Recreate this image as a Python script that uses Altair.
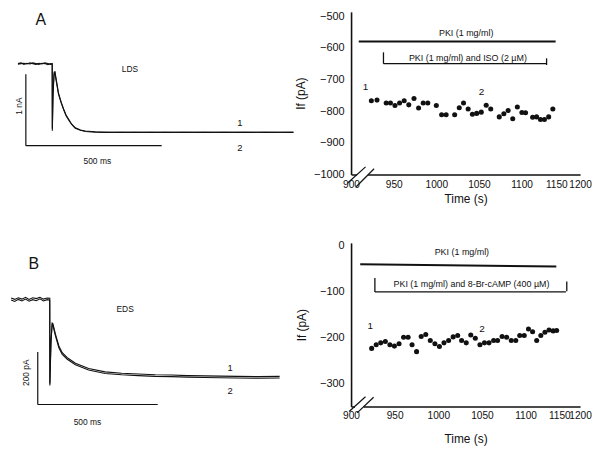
import altair as alt
import pandas as pd

FONT = "Liberation Sans"
INK = "#111111"

# ---------------- Panel A: current traces (time in ms, current in nA) ----------------
trA_time = [-29, -18, -7, 4, 15, 26, 37, 48, 59, 70, 81, 92, 97, 97.5, 100, 104, 107, 113, 120,
            130, 139, 148, 157, 168, 182, 201, 219, 255, 292, 350, 401, 460, 511, 580, 657, 730,
            803, 880, 985]
trA_1 = [1.15, 1.16, 1.14, 1.155, 1.145, 1.16, 1.15, 1.14, 1.155, 1.15, 1.135, 1.15, 1.145, 0.21,
         0.69, 1.03, 1.035, 0.90, 0.74, 0.61, 0.515, 0.43, 0.375, 0.305, 0.25, 0.22, 0.205, 0.195,
         0.19, 0.185, 0.19, 0.185, 0.19, 0.185, 0.19, 0.185, 0.19, 0.185, 0.19]
trA_2 = [1.14, 1.15, 1.155, 1.145, 1.16, 1.15, 1.14, 1.155, 1.145, 1.16, 1.15, 1.14, 1.15, 0.24,
         0.76, 1.00, 1.02, 0.88, 0.725, 0.60, 0.505, 0.42, 0.365, 0.30, 0.245, 0.215, 0.20, 0.19,
         0.185, 0.19, 0.185, 0.19, 0.185, 0.19, 0.185, 0.19, 0.185, 0.19, 0.185]

# ---------------- Panel B: current traces (time in ms, current in pA) ----------------
trB_time = [-111, -96, -81, -66, -51, -36, -21, -6, 9, 24, 39, 50, 50.5, 55, 60, 63, 74, 88, 102,
            123, 157, 212, 281, 350, 419, 490, 557, 625, 694, 760, 832, 920, 1008]
trB_1 = [398, 392, 400, 394, 401, 393, 399, 395, 402, 394, 399, 397, 72, 230, 310, 308, 267, 223,
         197, 178, 157, 137, 124, 119, 116, 113, 112, 110, 109, 108, 107, 106, 107]
trB_2 = [405, 400, 406, 401, 408, 400, 406, 403, 408, 401, 405, 404, 80, 245, 304, 302, 260, 216,
         191, 172, 151, 131, 118, 113, 110, 107, 106, 104, 103, 102, 101, 100, 101]

# ---------------- Panel A: If vs time (s) ----------------
scA_time = [923.8, 930.4, 941.2, 946.2, 951.5, 956.9, 962.3, 967.7, 973.8, 979.2, 984.6, 990.0,
            1000.0, 1006.2, 1011.5, 1021.5, 1026.9, 1031.9, 1037.3, 1042.3, 1047.3, 1052.7,
            1058.5, 1063.8, 1073.8, 1079.2, 1084.2, 1089.6, 1095.0, 1100.4, 1105.7, 1115.9,
            1121.6, 1127.2, 1132.9, 1139.0, 1145.0]
scA_if = [-767, -765, -774, -774, -782, -774, -767, -780, -760, -790, -774, -774, -782, -811,
          -811, -811, -789, -774, -793, -810, -807, -803, -781, -793, -818, -808, -798, -824,
          -787, -804, -805, -819, -818, -826, -826, -818, -793]

# ---------------- Panel B: If vs time (s) ----------------
scB_time = [923.6, 928.8, 934.0, 939.3, 944.5, 949.7, 955.0, 960.2, 965.4, 969.9, 975.1, 980.4,
            985.6, 990.8, 996.1, 1001.3, 1006.5, 1011.8, 1017.0, 1022.2, 1026.7, 1032.0, 1037.2,
            1042.4, 1047.7, 1052.9, 1058.1, 1063.4, 1067.9, 1073.1, 1078.3, 1083.6, 1088.8,
            1093.3, 1098.5, 1104.3, 1110.4, 1116.5, 1122.6, 1128.7, 1134.8, 1140.9, 1146.1]
scB_if = [-224, -216, -212, -209, -216, -219, -214, -200, -200, -216, -231, -198, -194, -207,
          -214, -220, -212, -207, -199, -196, -207, -212, -195, -202, -216, -212, -212, -207,
          -207, -198, -200, -207, -207, -196, -196, -182, -188, -207, -196, -189, -184, -186,
          -185]

x_ticks = [900, 950, 1000, 1050, 1100, 1150, 1200]
yA_ticks = [-1000, -900, -800, -700, -600, -500]
yB_ticks = [-300, -200, -100, 0]

# annotations: treatment bars / brackets / axis breaks (x in s, y in pA)
barsA = pd.DataFrame({
    "t":  [909, 938, 938, 1136, 896, 906],
    "t2": [1149, 1136, 938, 1136, 917, 927],
    "v":  [-580, -650, -614, -633, -1027, -1039],
    "v2": [-580, -650, -650, -654, -976, -982],
    "w":  [2.0, 1.3, 1.3, 1.3, 1.2, 1.2],
})
gapA = pd.DataFrame({"t": [907], "t2": [920], "v": [-1000], "v2": [-1000]})
labelsA = pd.DataFrame({
    "t": [1035, 1037, 917, 1053],
    "v": [-553, -631, -725, -738],
    "label": ["PKI (1 mg/ml)", "PKI (1 mg/ml) and ISO (2 \u00b5M)", "1", "2"],
    "fs": [9, 9, 10, 10],
})
barsB = pd.DataFrame({
    "t":  [910.5, 927.3, 927.3, 1168, 897.8, 907],
    "t2": [1145.6, 1166, 927.3, 1168, 916.5, 925.8],
    "v":  [-41.4, -101.4, -71.4, -78.6, -361, -364],
    "v2": [-46.4, -101.4, -101.4, -100, -329, -330],
    "w":  [2.0, 1.3, 1.3, 1.3, 1.2, 1.2],
})
gapB = pd.DataFrame({"t": [904.5], "t2": [914.5], "v": [-350], "v2": [-350]})
labelsB = pd.DataFrame({
    "t": [1027, 1038, 922, 1050],
    "v": [-14, -84, -175, -183],
    "label": ["PKI (1 mg/ml)", "PKI (1 mg/ml) and 8-Br-cAMP (400 \u00b5M)", "1", "2"],
    "fs": [9, 9, 10, 10],
})

# trace panel annotations (scale bars and labels), in ms and nA / pA
tbarsA = pd.DataFrame({"t": [0, 0], "t2": [0, 500], "i": [0, 0], "i2": [1, 0]})
tlabA = pd.DataFrame({
    "t": [54.7, 383, 788, 788, -25.5, 263],
    "i": [1.764, 1.069, 0.319, -0.028, 0.556, -0.208],
    "label": ["A", "LDS", "1", "2", "1 nA", "500 ms"],
    "fs": [16, 8.5, 9.5, 9.5, 8.5, 8.5],
    "ang": [0, 0, 0, 0, 270, 0],
})
tbarsB = pd.DataFrame({"t": [0, 0], "t2": [0, 500], "i": [0, 0], "i2": [200, 0]})
tlabB = pd.DataFrame({
    "t": [-16.5, 364, 802, 802, -49.6, 207],
    "i": [536, 362, 140, 53, 121, -68],
    "label": ["B", "EDS", "1", "2", "200 pA", "500 ms"],
    "fs": [16, 8.5, 9.5, 9.5, 8.5, 8.5],
    "ang": [0, 0, 0, 0, 270, 0],
})


def trace_panel(time, s1, s2, xdom, ydom, bars, labels, W, H):
    df = pd.DataFrame({"t": time + time, "i": s1 + s2,
                       "trace": ["1"] * len(time) + ["2"] * len(time)})
    xs = alt.Scale(domain=xdom, nice=False, zero=False)
    ys = alt.Scale(domain=ydom, nice=False, zero=False)
    X = lambda f: alt.X(f, type="quantitative", scale=xs, axis=None)
    Y = lambda f: alt.Y(f, type="quantitative", scale=ys, axis=None)
    lines = alt.Chart(df).mark_line(color=INK, strokeWidth=1.1).encode(
        x=X("t"), y=Y("i"), detail="trace:N")
    rules = alt.Chart(bars).mark_rule(color=INK, strokeWidth=1.2).encode(
        x=X("t"), x2="t2:Q", y=Y("i"), y2="i2:Q")
    texts = alt.Chart(labels).mark_text(font=FONT, color=INK).encode(
        x=X("t"), y=Y("i"), text="label:N",
        size=alt.Size("fs:Q", scale=None),
        angle=alt.Angle("ang:Q", scale=None))
    return alt.layer(lines, rules, texts).properties(width=W, height=H)


def scatter_panel(times, vals, xrange, ydom, yticks, bars, gap, labels, W, H,
                  xlabpad, xtitlepad, ytitlepad):
    df = pd.DataFrame({"t": times, "v": vals})
    xs = alt.Scale(domain=[900, 1100, 1150, 1200], range=xrange)
    ys = alt.Scale(domain=ydom, nice=False, zero=False)
    common = dict(ticks=False, grid=False, format="d", labelOverlap=False,
                  labelFlush=False, titleFontSize=12, titleFontWeight="normal",
                  domainWidth=1.6, labelFont=FONT, titleFont=FONT, labelColor=INK,
                  titleColor=INK, domainColor=INK)
    xax = alt.Axis(values=x_ticks, title="Time (s)", labelPadding=xlabpad,
                   titlePadding=xtitlepad, labelFontSize=10.2, **common)
    yax = alt.Axis(values=yticks, title="If (pA)", labelPadding=7,
                   titlePadding=ytitlepad, labelFontSize=11, **common)
    X = lambda f: alt.X(f, type="quantitative", scale=xs, axis=xax)
    Y = lambda f: alt.Y(f, type="quantitative", scale=ys, axis=yax)
    pts = alt.Chart(df).mark_circle(size=26, color=INK, opacity=1).encode(
        x=X("t"), y=Y("v"))
    gaps = alt.Chart(gap).mark_rule(color="white", strokeWidth=4).encode(
        x=X("t"), x2="t2:Q", y=Y("v"), y2="v2:Q")
    rules = alt.Chart(bars).mark_rule(color=INK).encode(
        x=X("t"), x2="t2:Q", y=Y("v"), y2="v2:Q",
        strokeWidth=alt.StrokeWidth("w:Q", scale=None))
    texts = alt.Chart(labels).mark_text(font=FONT, color=INK).encode(
        x=X("t"), y=Y("v"), text="label:N",
        size=alt.Size("fs:Q", scale=None))
    return alt.layer(pts, gaps, rules, texts).properties(width=W, height=H)


trA = trace_panel(trA_time, trA_1, trA_2, [-43.8, 1021.9], [-0.4028, 1.875],
                  tbarsA, tlabA, 292, 164)
scA = scatter_panel(scA_time, scA_if, [0, 172, 207, 231], [-1000, -486], yA_ticks,
                    barsA, gapA, labelsA, 231, 164, 5, 4, 6)
trB = trace_panel(trB_time, trB_1, trB_2, [-99.2, 1107.4], [-7.55, 615.1],
                  tbarsB, tlabB, 292, 165)
scB = scatter_panel(scB_time, scB_if, [0, 176, 210, 231], [-350, 5], yB_ticks,
                    barsB, gapB, labelsB, 231, 165, 4, 13, 11)

chart = alt.concat(trA, scA, trB, scB, columns=2,
                   spacing={"row": 69, "column": 48}, bounds="flush").properties(
    padding=0
).configure_view(strokeWidth=0)

chart.save("out.html", embed_options={"renderer": "svg", "actions": False})
